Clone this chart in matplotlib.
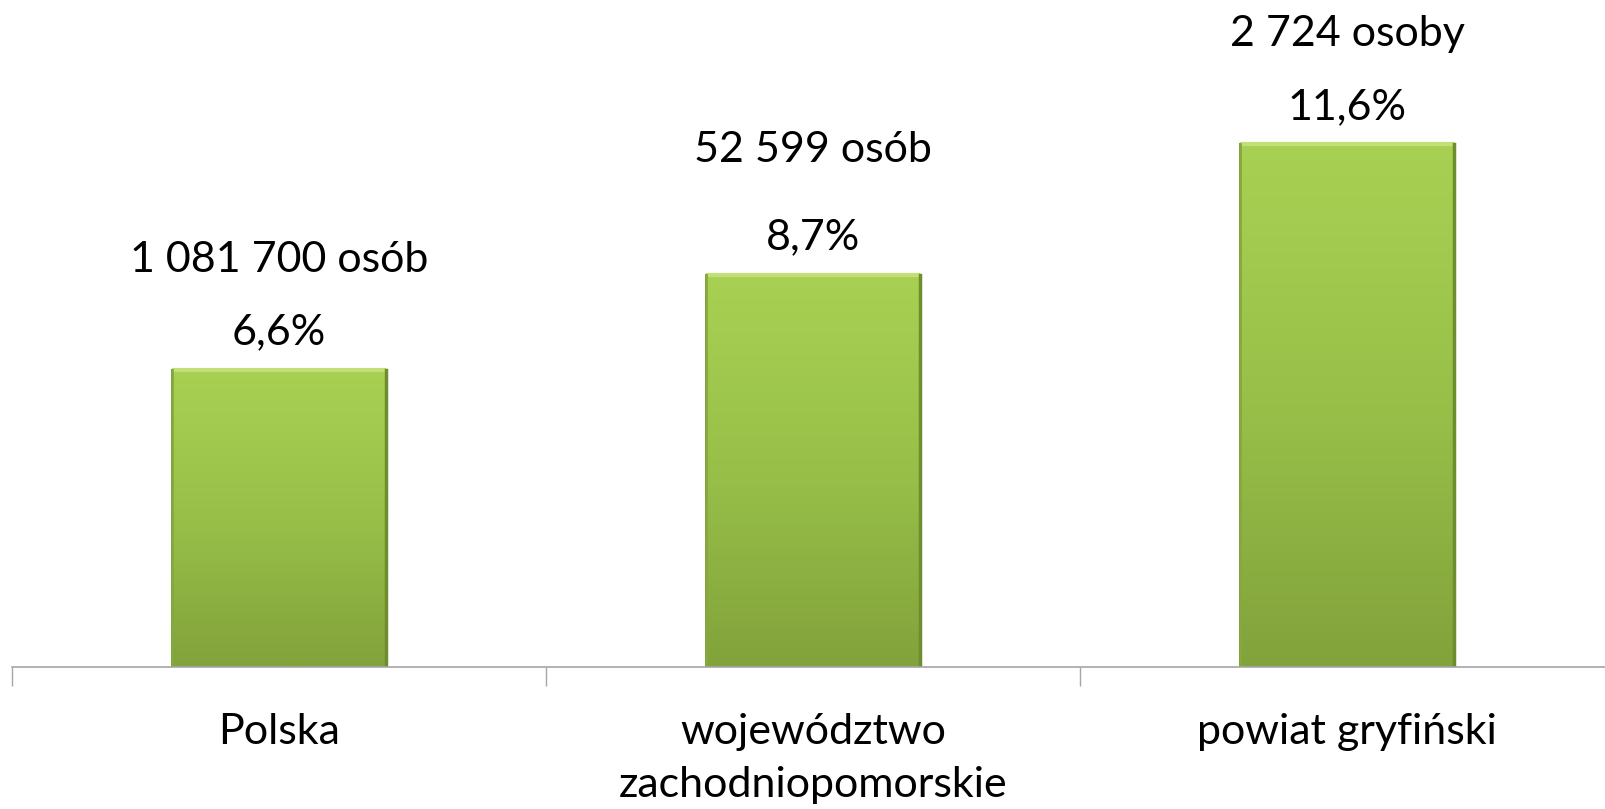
import numpy as np
import matplotlib
matplotlib.use("Agg")
import matplotlib.pyplot as plt

plt.rcParams['font.family'] = ['Lato', 'DejaVu Sans']

categories = ["Polska", "województwo\nzachodniopomorskie", "powiat gryfiński"]
percent = [6.6, 8.7, 11.6]
people = ["1 081 700 osób", "52 599 osób", "2 724 osoby"]

fig = plt.figure(figsize=(16.05, 8.09), dpi=100)
# axes spans a bit beyond the right edge, like the source slide crop
ax = fig.add_axes([12 / 1605, 142 / 809, 1602 / 1605, 667 / 809])

x = np.arange(len(categories))
width = 0.40
bars = ax.bar(x, percent, width=width, color="#98c049", edgecolor="#6a882c",
              linewidth=1.4, zorder=2)

# vertical gradient fill inside each bar
grad = np.linspace(0, 1, 256).reshape(-1, 1)
cmap = matplotlib.colors.LinearSegmentedColormap.from_list(
    "grn", ["#82a23b", "#98c049", "#a8d153"])
for b in bars:
    x0, y0 = b.get_x(), b.get_y()
    w, h = b.get_width(), b.get_height()
    im = ax.imshow(grad, extent=[x0, x0 + w, y0, y0 + h], origin="lower",
                   cmap=cmap, aspect="auto", zorder=3)
    im.set_clip_path(b)
    # bevel: light top edge, darker sides
    ax.plot([x0, x0 + w], [y0 + h, y0 + h], color="#c2df78", lw=3, zorder=4,
            solid_capstyle="butt")
    ax.plot([x0 + w, x0 + w], [y0, y0 + h], color="#6e8d2f", lw=2.5, zorder=4)
    ax.plot([x0, x0], [y0, y0 + h], color="#86a83f", lw=2, zorder=4)

# the middle "osób" label sits a little higher in the original
people_offset = [79, 90, 79]
for xi, p, n, off in zip(x, percent, people, people_offset):
    ax.annotate(f"{p:.1f}%".replace(".", ","), (xi, p), xytext=(0, 27),
                textcoords="offset points", ha="center", va="center",
                fontsize=31, color="black")
    ax.annotate(n, (xi, p), xytext=(0, off), textcoords="offset points",
                ha="center", va="center", fontsize=31, color="black")

ax.set_xlim(-0.5, len(categories) - 0.5)
ax.set_ylim(0, 14.8)
ax.set_xticks(np.arange(len(categories) + 1) - 0.5, minor=False)
ax.set_xticklabels([])
ax.set_xticks(x, minor=True)
ax.set_xticklabels(categories, minor=True, fontsize=31, linespacing=1.5)
ax.tick_params(axis="x", which="major", length=14, width=1, color="#a6a6a6")
ax.tick_params(axis="x", which="minor", length=0, pad=33)
ax.set_yticks([])
for s in ["top", "right", "left"]:
    ax.spines[s].set_visible(False)
ax.spines["bottom"].set_color("#a6a6a6")
ax.spines["bottom"].set_linewidth(1.2)
ax.spines["bottom"].set_zorder(5)

fig.savefig("out.png", dpi=100)
